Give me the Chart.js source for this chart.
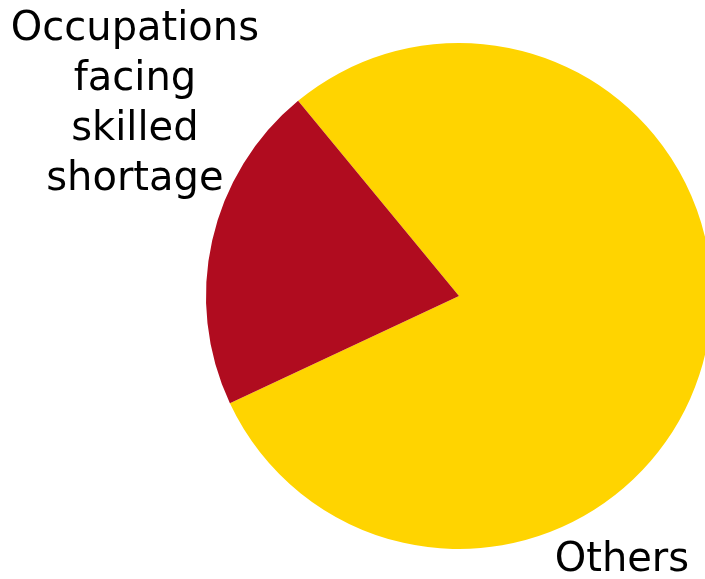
<!DOCTYPE html>
<html>
<head>
<meta charset="utf-8">
<script src="https://cdn.jsdelivr.net/npm/chart.js@4/dist/chart.umd.min.js"></script>
<style>
  body { margin: 0; overflow: hidden; background: #fff; }
  #wrap { width: 720px; height: 579px; }
</style>
</head>
<body>
<div id="wrap"><canvas id="pieChart"></canvas></div>
<script>
const categories = ["Others", "Occupations facing skilled shortage"];
const shares = [79, 21];
const sliceColors = ["#FFD400", "#B00C1F"];
const labelLines = [["Others"], ["Occupations", "facing", "skilled", "shortage"]];

// draws slice names outside the pie, matplotlib style
const outsideLabels = {
  id: "outsideLabels",
  afterDraw(chart) {
    const arc = chart.getDatasetMeta(0).data[0];
    const cx = arc.x, cy = arc.y, r = arc.outerRadius;
    const spots = [
      { x: cx + 0.644 * r, y: cy + 1.047 * r },
      { x: cx - 1.281 * r, y: cy - 0.757 * r },
    ];
    const ctx = chart.ctx;
    ctx.save();
    ctx.fillStyle = "#000";
    ctx.font = '40px "DejaVu Sans"';
    ctx.textAlign = "center";
    ctx.textBaseline = "middle";
    labelLines.forEach((lines, i) => {
      const lineH = 50;
      const top = spots[i].y - ((lines.length - 1) * lineH) / 2;
      lines.forEach((ln, j) => ctx.fillText(ln, spots[i].x, top + j * lineH));
    });
    ctx.restore();
  },
};

new Chart(document.getElementById("pieChart"), {
  type: "pie",
  data: {
    labels: categories,
    datasets: [
      {
        data: shares,
        backgroundColor: sliceColors,
        borderWidth: 0,
      },
    ],
  },
  options: {
    responsive: true,
    maintainAspectRatio: false,
    animation: false,
    rotation: -39.5,
    layout: { padding: { left: 206, top: 43, right: 8, bottom: 30 } },
    plugins: {
      legend: { display: false },
      tooltip: { enabled: false },
    },
  },
  plugins: [outsideLabels],
});
</script>
</body>
</html>
